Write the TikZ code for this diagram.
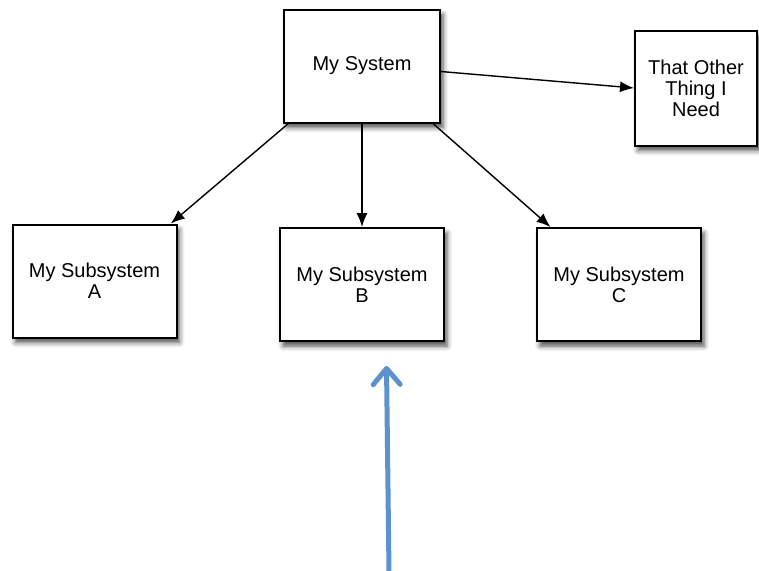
\documentclass[tikz,border=0pt]{standalone}
\usepackage{fontspec}
\setmainfont{Liberation Sans}
\usepackage{tikz}
\usetikzlibrary{calc,shapes,arrows,arrows.meta,shadows,shadows.blur,positioning}
\definecolor{arrowblue}{RGB}{94,146,205}

\begin{document}
\begin{tikzpicture}[x=1pt,y=-1pt]
          \useasboundingbox (0,0) rectangle (759,570);

          \tikzstyle{every edge}=[-{Latex[length=14pt,width=11pt]},line width=1.4pt,draw]
          \tikzstyle{box}=[draw,line width=2pt,fill=white,align=center,
            font=\fontsize{20}{21}\selectfont,
            blur shadow={shadow xshift=3pt,shadow yshift=-5pt,shadow blur radius=5pt,shadow opacity=70}]
          % systeme
          \node[box,minimum width=156pt,minimum height=113pt] (sys) at (362,66) {My System};
          \node[box,minimum width=122pt,minimum height=115pt] (other) at (696,88) {That Other\\Thing I\\Need};
          % sous-systemes
          \foreach \name/\x/\y/\lab in {subA/94.5/281/A, subB/362/284.5/B, subC/619/284.5/C} {
            \node[box,minimum width=164pt,minimum height=113pt] (\name) at (\x,\y) {My Subsystem\\\lab};
          }

          \path (sys.218) edge (subA.37)
          (sys.south) edge (subB.north)
          (sys.321) edge (subC.140)
          (sys.-4) edge (other.west);

          % fleche bleue
          \coordinate (bbot) at (389,572);
          \coordinate (btop) at (386.5,366);
          \draw[arrowblue,line width=5pt,line cap=round,
            -{Straight Barb[length=16pt,width=27pt,round]}] (bbot) -- (btop);
        \end{tikzpicture}
\end{document}
